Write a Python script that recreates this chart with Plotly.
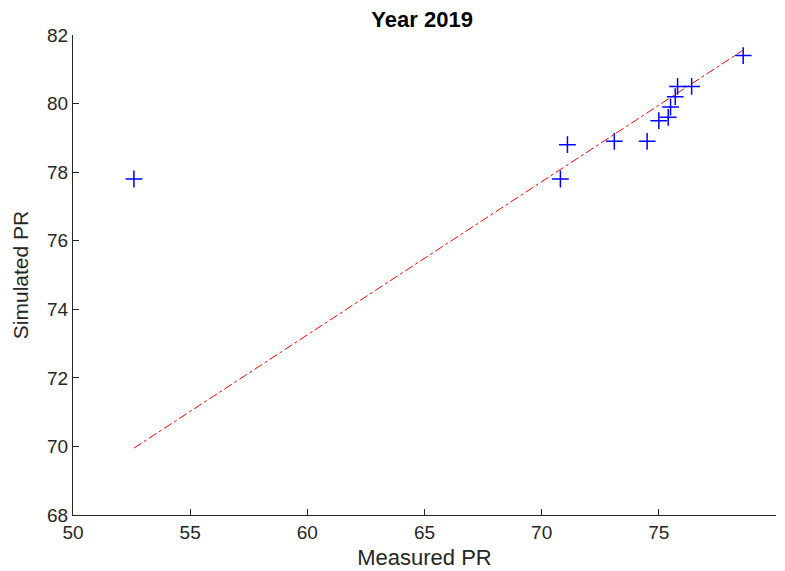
import plotly.graph_objects as go

# Data
measured_pr = [52.6, 70.8, 71.1, 75.0, 73.1, 75.4, 74.5, 75.5, 75.7, 75.8, 76.4, 78.6]
simulated_pr = [77.8, 77.8, 78.8, 79.5, 78.9, 79.6, 78.9, 79.9, 80.2, 80.5, 80.5, 81.4]
# Fitted line values at the measured points
fit_y = [69.95, 78.08, 78.21, 79.95, 79.10, 80.13, 79.73, 80.17, 80.26, 80.31, 80.58, 81.56]

x_ticks = [50, 55, 60, 65, 70, 75, 80]
y_ticks = [68, 70, 72, 74, 76, 78, 80, 82]

font_family = "Liberation Sans, Arial, sans-serif"
axis_color = "#262626"

fig = go.Figure()
fig.add_trace(go.Scatter(
    x=measured_pr, y=fit_y, mode="lines",
    line=dict(color="red", width=1, dash="dashdot"),
    showlegend=False, hoverinfo="skip"))
fig.add_trace(go.Scatter(
    x=measured_pr, y=simulated_pr, mode="markers",
    marker=dict(symbol="cross-thin", size=12, line=dict(color="blue", width=1.5)),
    showlegend=False))

# The page body adds an 8 px margin, so the figure is sized to fit the window.
fig.update_layout(
    width=777, height=563,
    margin=dict(l=65, r=9, t=27, b=56),
    paper_bgcolor="white", plot_bgcolor="white",
    font=dict(family=font_family, color=axis_color, size=19),
    title=dict(text="<b>Year 2019</b>", x=0.533, xanchor="center",
               y=1 - 4 / 563, yanchor="top",
               font=dict(size=22, color="black", family=font_family)),
    xaxis=dict(range=[50, 80], tickvals=x_ticks, ticks="inside", ticklen=6,
               tickcolor=axis_color, showline=True, linecolor=axis_color, linewidth=1.3,
               showgrid=False, zeroline=False, automargin=False,
               title=dict(text="Measured PR", font=dict(size=22), standoff=7)),
    yaxis=dict(range=[68, 82], tickvals=y_ticks, ticks="inside", ticklen=6,
               tickcolor=axis_color, showline=True, linecolor=axis_color, linewidth=1.3,
               showgrid=False, zeroline=False, automargin=False,
               title=dict(text="Simulated PR", font=dict(size=21), standoff=12)),
)

fig.write_html("out.html")
